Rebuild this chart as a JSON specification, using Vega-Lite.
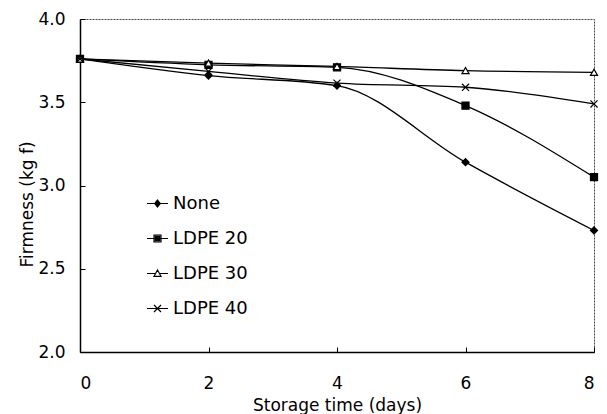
{
  "$schema": "https://vega.github.io/schema/vega-lite/v6.json",
  "width": 514,
  "height": 333,
  "autosize": "none",
  "padding": {"left": 80, "top": 19, "right": 13, "bottom": 62},
  "background": "white",
  "data": {
    "values": [
      {"day": 0, "series": "None", "firmness": 3.76},
      {"day": 2, "series": "None", "firmness": 3.66},
      {"day": 4, "series": "None", "firmness": 3.60},
      {"day": 6, "series": "None", "firmness": 3.14},
      {"day": 8, "series": "None", "firmness": 2.73},
      {"day": 0, "series": "LDPE 20", "firmness": 3.76},
      {"day": 2, "series": "LDPE 20", "firmness": 3.725},
      {"day": 4, "series": "LDPE 20", "firmness": 3.71},
      {"day": 6, "series": "LDPE 20", "firmness": 3.48},
      {"day": 8, "series": "LDPE 20", "firmness": 3.05},
      {"day": 0, "series": "LDPE 30", "firmness": 3.76},
      {"day": 2, "series": "LDPE 30", "firmness": 3.735},
      {"day": 4, "series": "LDPE 30", "firmness": 3.715},
      {"day": 6, "series": "LDPE 30", "firmness": 3.69},
      {"day": 8, "series": "LDPE 30", "firmness": 3.68},
      {"day": 0, "series": "LDPE 40", "firmness": 3.76},
      {"day": 2, "series": "LDPE 40", "firmness": 3.685},
      {"day": 4, "series": "LDPE 40", "firmness": 3.615},
      {"day": 6, "series": "LDPE 40", "firmness": 3.59},
      {"day": 8, "series": "LDPE 40", "firmness": 3.49}
    ]
  },
  "encoding": {
    "x": {
      "field": "day", "type": "quantitative",
      "scale": {"domain": [0, 8], "nice": false, "zero": false},
      "axis": {"values": [0, 2, 4, 6, 8], "title": "Storage time (days)", "grid": false,
               "tickSize": -5, "labelPadding": 28, "format": "d",
               "titleBaseline": "alphabetic", "titleY": 58}
    },
    "y": {
      "field": "firmness", "type": "quantitative",
      "scale": {"domain": [2.0, 4.0], "nice": false, "zero": false},
      "axis": {"values": [2.0, 2.5, 3.0, 3.5, 4.0], "title": "Firmness (kg f)", "grid": false,
               "tickSize": -5, "labelPadding": 20, "format": ".1f",
               "titleBaseline": "alphabetic", "titleX": -48, "titleY": 185, "titleAngle": 270}
    }
  },
  "layer": [
    {
      "mark": {"type": "line", "interpolate": "monotone", "color": "black", "strokeWidth": 1.3},
      "encoding": {"detail": {"field": "series"}}
    },
    {
      "mark": {"type": "point", "filled": true, "stroke": "black", "strokeWidth": 1.2, "opacity": 1, "size": 50},
      "encoding": {
        "shape": {
          "field": "series", "type": "nominal",
          "scale": {"domain": ["None", "LDPE 20", "LDPE 30", "LDPE 40"],
                    "range": ["diamond", "square", "triangle-up", "M-1,-1L1,1M-1,1L1,-1"]},
          "legend": null
        },
        "fill": {
          "field": "series", "type": "nominal",
          "scale": {"domain": ["None", "LDPE 20", "LDPE 30", "LDPE 40"],
                    "range": ["black", "black", "white", "white"]},
          "legend": null
        }
      }
    },
    {
      "transform": [{"filter": "datum.day < 0"}],
      "mark": {"type": "point", "filled": false, "color": "black", "strokeWidth": 1.2, "opacity": 1},
      "encoding": {
        "shape": {
          "field": "series", "type": "nominal",
          "scale": {"domain": ["None", "LDPE 20", "LDPE 30", "LDPE 40"],
                    "range": [
                      "M-3,0H3M0,-1L0.8,0L0,1L-0.8,0ZM0,-0.6L0.45,0L0,0.6L-0.45,0ZM0,-0.25L0.15,0L0,0.25L-0.15,0Z",
                      "M-3,0H3M-1,-1H1V1H-1ZM-0.6,-0.6H0.6V0.6H-0.6ZM-0.25,-0.25H0.25V0.25H-0.25Z",
                      "M-3,0H-0.55M0.55,0H3M0,-1L1,0.8H-1Z",
                      "M-3,0H3M-1,-1L1,1M-1,1L1,-1"
                    ]},
          "legend": {
            "orient": "none", "legendX": 68.5, "legendY": 175.5, "title": null, "padding": 0,
            "labelFontSize": 18, "labelFont": "DejaVu Sans", "labelColor": "black",
            "symbolSize": 49, "rowPadding": 17, "labelOffset": 6.5,
            "symbolStrokeColor": "black", "symbolStrokeWidth": 1.2, "symbolOpacity": 1,
            "symbolFillColor": "transparent"
          }
        }
      }
    }
  ],
  "resolve": {"scale": {"shape": "independent"}},
  "config": {
    "view": {"stroke": "#444", "strokeWidth": 1, "strokeDash": [2, 1]},
    "axis": {
      "domainColor": "black", "domainWidth": 1.5, "tickColor": "black", "tickWidth": 1,
      "labelFont": "DejaVu Sans", "labelFontSize": 17, "labelColor": "black",
      "titleFont": "DejaVu Sans", "titleFontSize": 17, "titleFontWeight": "normal", "titleColor": "black"
    }
  }
}
